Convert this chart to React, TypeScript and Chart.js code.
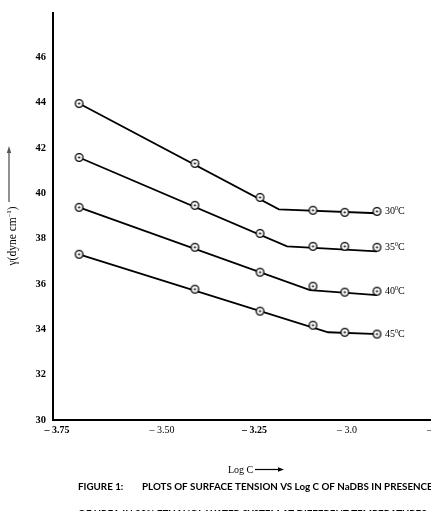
import React, { useEffect, useRef } from "react";
import { Chart, registerables } from "chart.js";
Chart.register(...registerables);

// ---- data ----
const logC = [-3.724, -3.411, -3.235, -3.092, -3.006, -2.919];
const temps = ["30", "35", "40", "45"];
const gamma30 = [43.96, 41.32, 39.82, 39.25, 39.16, 39.2];
const gamma35 = [41.58, 39.47, 38.23, 37.66, 37.66, 37.62];
const gamma40 = [39.38, 37.62, 36.52, 35.9, 35.64, 35.68];
const gamma45 = [37.31, 35.77, 34.8, 34.18, 33.87, 33.79];
// fitted lines: start, break point, end
const fitX30 = [-3.724, -3.184, -2.919];
const fitY30 = [43.96, 39.29, 39.12];
const fitX35 = [-3.724, -3.162, -2.919];
const fitY35 = [41.58, 37.66, 37.44];
const fitX40 = [-3.724, -3.1, -2.919];
const fitY40 = [39.38, 35.73, 35.51];
const fitX45 = [-3.724, -3.051, -2.914];
const fitY45 = [37.31, 33.87, 33.79];

const xTickValues = [-3.75, -3.5, -3.25, -3.0, -2.75];
const xTickLabels = ["– 3.75", "– 3.50", "– 3.25", "– 3.0", "– 2.75"];
const xTickBold = [true, false, true, false, false];
const yTickValues = [30, 32, 34, 36, 38, 40, 42, 44, 46];

const xAxisTitle = "Log C";
const yAxisTitle = "γ(dyne cm";
const captionLabel = "FIGURE 1:";
const captionLine1 = "PLOTS OF SURFACE TENSION VS Log C OF NaDBS IN PRESENCE OF";
const captionLine2 = "OF UREA IN 20% ETHANOL-WATER SYSTEM AT DIFFERENT TEMPERATURES";

const SERIF = '"Liberation Serif", "DejaVu Serif", serif';

function makeMarker(): HTMLCanvasElement {
  const c = document.createElement("canvas");
  c.width = 11;
  c.height = 11;
  const g = c.getContext("2d")!;
  g.beginPath();
  g.arc(5.5, 5.5, 3.8, 0, Math.PI * 2);
  g.fillStyle = "#fff";
  g.fill();
  g.lineWidth = 1.3;
  g.strokeStyle = "#000";
  g.stroke();
  g.beginPath();
  g.arc(5.5, 5.5, 1.1, 0, Math.PI * 2);
  g.fillStyle = "#000";
  g.fill();
  return c;
}

const zip = (xs: number[], ys: number[]) => xs.map((x, i) => ({ x, y: ys[i] }));

export default function App() {
  const ref = useRef<HTMLCanvasElement>(null);

  useEffect(() => {
    if (!ref.current) return;
    const marker = makeMarker();
    const series = [gamma30, gamma35, gamma40, gamma45];
    const fits = [
      [fitX30, fitY30],
      [fitX35, fitY35],
      [fitX40, fitY40],
      [fitX45, fitY45],
    ];
    const markerSets = series.map((s, i) => ({
      label: temps[i] + "°C",
      data: zip(logC, s),
      showLine: false,
      pointStyle: marker as any,
      pointRadius: 4,
      order: 0,
    }));
    const lineSets = fits.map((f, i) => ({
      label: "fit " + temps[i],
      data: zip(f[0], f[1]),
      showLine: true,
      borderColor: "#000",
      borderWidth: 1.8,
      pointRadius: 0,
      tension: 0,
      order: 1,
    }));

    const decor = {
      id: "decor",
      afterDraw(chart: any) {
        const ctx = chart.ctx as CanvasRenderingContext2D;
        ctx.save();
        ctx.fillStyle = "#000";
        // series labels
        for (let i = 0; i < 4; i++) {
          const meta = chart.getDatasetMeta(i);
          const p = meta.data[meta.data.length - 1];
          let x = p.x + 8;
          const y = p.y;
          ctx.textBaseline = "middle";
          ctx.textAlign = "left";
          ctx.font = `10px ${SERIF}`;
          ctx.fillText(temps[i], x, y);
          x += ctx.measureText(temps[i]).width;
          ctx.font = `6px ${SERIF}`;
          ctx.fillText("0", x, y - 3);
          x += ctx.measureText("0").width;
          ctx.font = `10px ${SERIF}`;
          ctx.fillText("C", x, y);
        }
        // y-axis title (rotated)
        ctx.save();
        ctx.translate(13, 236);
        ctx.rotate(-Math.PI / 2);
        ctx.textBaseline = "middle";
        ctx.font = `11.5px ${SERIF}`;
        const w1 = ctx.measureText(yAxisTitle).width;
        ctx.font = `7px ${SERIF}`;
        const w2 = ctx.measureText("–1").width;
        ctx.font = `11.5px ${SERIF}`;
        const w3 = ctx.measureText(")").width;
        let tx = -(w1 + w2 + w3) / 2;
        ctx.fillText(yAxisTitle, tx, 0);
        tx += w1;
        ctx.font = `7px ${SERIF}`;
        ctx.fillText("–1", tx, -4);
        tx += w2;
        ctx.font = `11.5px ${SERIF}`;
        ctx.fillText(")", tx, 0);
        ctx.restore();
        // y arrow
        ctx.strokeStyle = "#555";
        ctx.fillStyle = "#555";
        ctx.lineWidth = 1.3;
        ctx.beginPath();
        ctx.moveTo(9, 202);
        ctx.lineTo(9, 151);
        ctx.stroke();
        ctx.beginPath();
        ctx.moveTo(9, 146);
        ctx.lineTo(6.8, 153);
        ctx.lineTo(11.2, 153);
        ctx.closePath();
        ctx.fill();
        // x title with arrow
        ctx.fillStyle = "#000";
        ctx.strokeStyle = "#000";
        ctx.textBaseline = "alphabetic";
        ctx.font = `10px ${SERIF}`;
        ctx.fillText(xAxisTitle, 228, 473);
        ctx.lineWidth = 1.2;
        ctx.beginPath();
        ctx.moveTo(255, 469.5);
        ctx.lineTo(279, 469.5);
        ctx.stroke();
        ctx.beginPath();
        ctx.moveTo(284, 469.5);
        ctx.lineTo(278, 467.3);
        ctx.lineTo(278, 471.7);
        ctx.closePath();
        ctx.fill();
        // caption
        ctx.font = 'bold 9.8px Lato, "Open Sans", sans-serif';
        ctx.fillText(captionLabel, 78, 490);
        ctx.fillText(captionLine1, 142, 490);
        ctx.fillText(captionLine2, 78, 517);
        ctx.restore();
      },
    };

    const chart = new Chart(ref.current, {
      type: "scatter",
      data: { datasets: [...markerSets, ...lineSets] as any },
      options: {
        animation: false,
        responsive: false,
        layout: { padding: { top: 13, right: 10, left: 0, bottom: 0 } },
        plugins: { legend: { display: false }, tooltip: { enabled: false } },
        scales: {
          x: {
            type: "linear",
            min: -3.7946,
            max: -2.6405,
            grid: { display: false, drawTicks: false },
            border: { display: true, color: "#000", width: 2 },
            afterBuildTicks: (scale: any) => {
              scale.ticks = xTickValues.map((v, i) => ({
                value: i === 0 ? scale.min + 0.011 : v,
              }));
            },
            afterFit: (scale: any) => {
              scale.height = 91;
            },
            ticks: {
              padding: 4,
              color: "#000",
              maxRotation: 0,
              autoSkip: false,
              font: (c: any) => ({
                family: SERIF,
                size: 10,
                weight: xTickBold[c.index] ? "bold" : "normal",
              }),
              callback: (_v: any, i: number) => xTickLabels[i],
            },
          },
          y: {
            type: "linear",
            min: 30,
            max: 47.94,
            grid: { display: false, drawTicks: false },
            border: { display: true, color: "#000", width: 2 },
            afterBuildTicks: (scale: any) => {
              scale.ticks = yTickValues.map((v) => ({ value: v }));
            },
            afterFit: (scale: any) => {
              scale.width = 53;
            },
            ticks: {
              padding: 7,
              color: "#000",
              font: { family: SERIF, size: 10.5, weight: "bold" },
              callback: (v: any) => String(v),
            },
          },
        },
      },
      plugins: [decor],
    });
    return () => chart.destroy();
  }, []);

  return (
    <div
      style={{
        position: "fixed",
        left: 0,
        top: 0,
        width: 431,
        height: 511,
        overflow: "hidden",
        background: "#fff",
      }}
    >
      <canvas ref={ref} width={490} height={511} style={{ display: "block", width: 490, height: 511 }} />
    </div>
  );
}
